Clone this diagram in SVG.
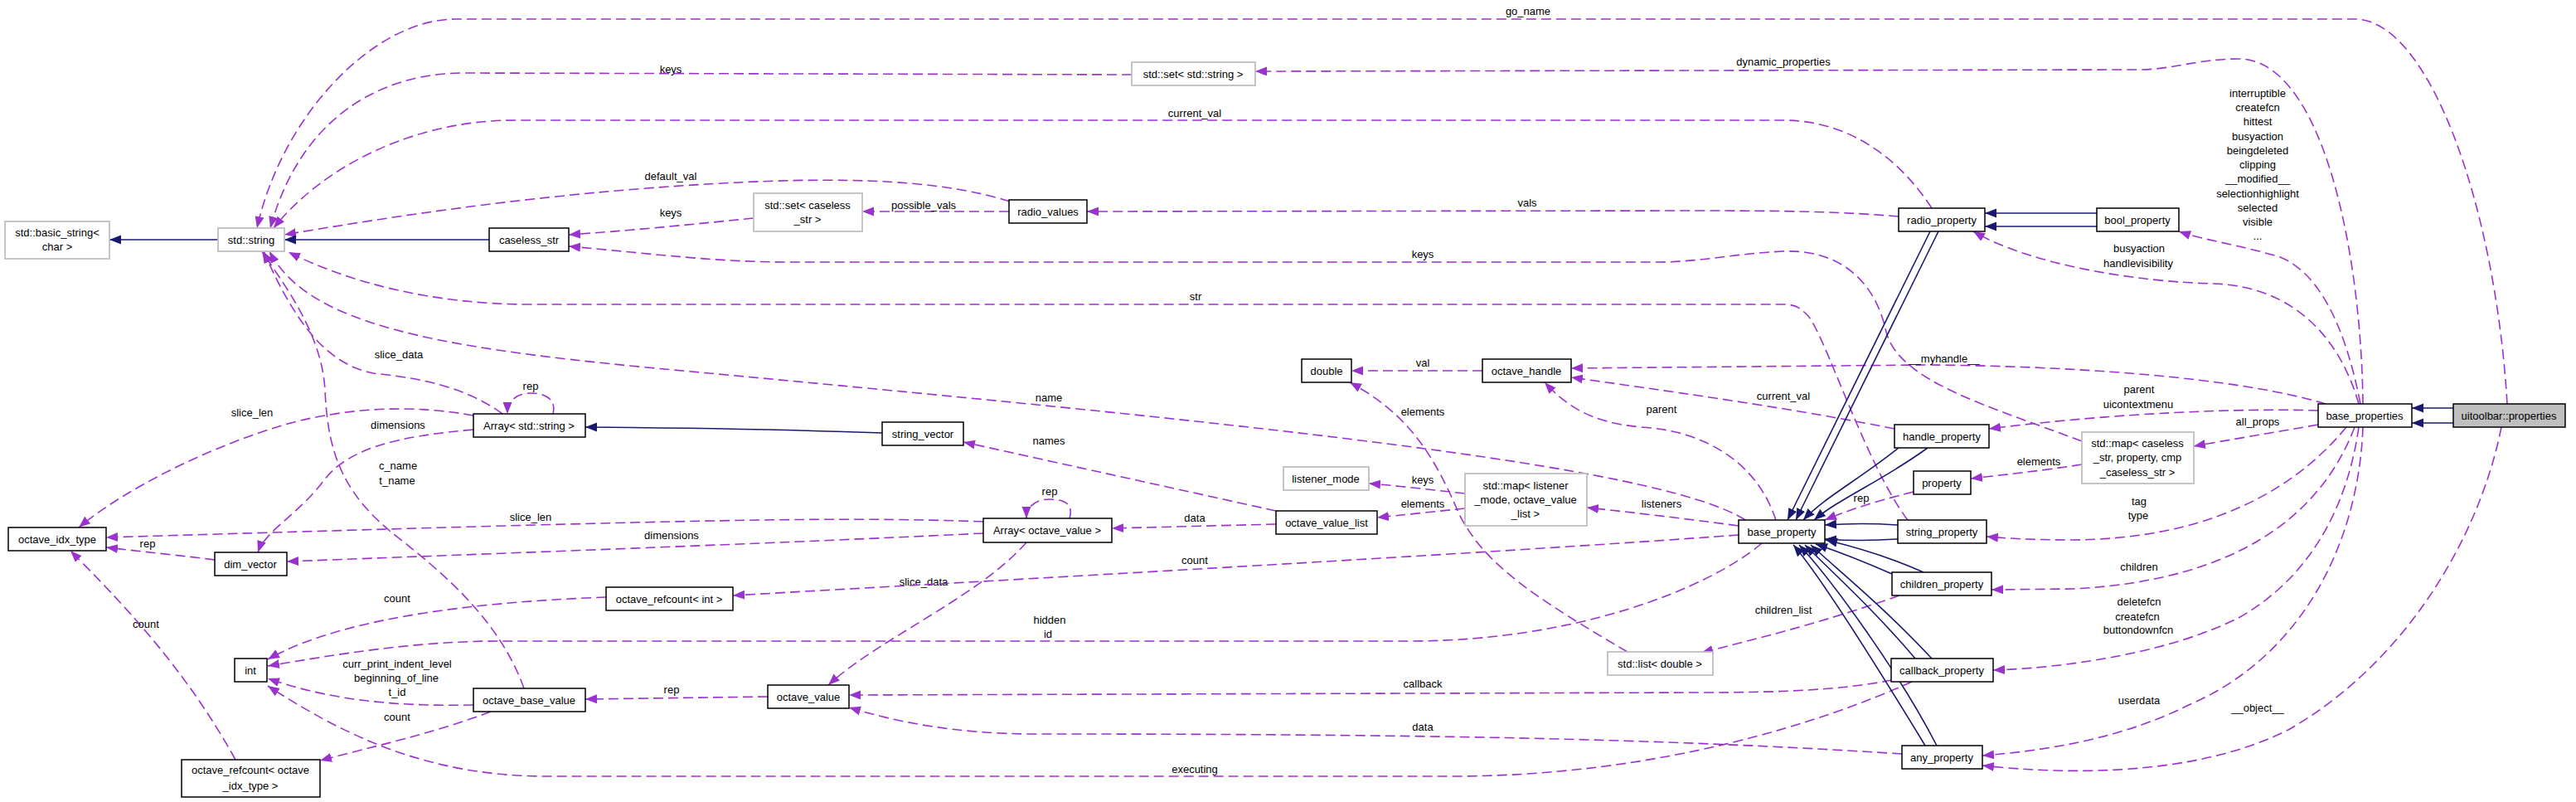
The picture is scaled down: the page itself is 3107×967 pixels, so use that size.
<svg xmlns="http://www.w3.org/2000/svg" width="3107" height="967" viewBox="0 0 3107 967">
<style>
.n rect{fill:#fff;stroke:#000;stroke-width:1.5}
.g rect{fill:#fff;stroke:#bfbfbf;stroke-width:1.8}
.s rect{fill:#bfbfbf;stroke:#000;stroke-width:1.5}
text{font-family:"Liberation Sans",Arial,Helvetica,sans-serif;font-size:13px;text-anchor:middle;fill:#000}
.d{fill:none;stroke:#9a32cd;stroke-width:1.6;stroke-dasharray:12,6;marker-end:url(#ap)}
.i{fill:none;stroke:#191970;stroke-width:1.6;marker-end:url(#an)}
</style>
<defs>
<marker id="ap" markerWidth="16" markerHeight="12" refX="14" refY="5.5" orient="auto" markerUnits="userSpaceOnUse"><path d="M0,0 L14,5.5 L0,11 z" fill="#9a32cd"/></marker>
<marker id="an" markerWidth="16" markerHeight="12" refX="14" refY="5.5" orient="auto" markerUnits="userSpaceOnUse"><path d="M0,0 L14,5.5 L0,11 z" fill="#191970"/></marker>
</defs>
<rect width="3107" height="967" fill="#fff"/>
<g id="edges">
<path class="d" d="M3024,487 C3010,250 2930,23 2840,23 L550,23 C450,23 340,140 310,275"/>
<text x="1843" y="18">go_name</text>
<path class="d" d="M2850,487 C2848,300 2800,71 2700,71 C2650,71 2620,84 2580,84 L1514,86"/>
<text x="2151" y="79">dynamic_properties</text>
<path class="d" d="M1365,90 L560,88 C450,88 360,150 326,275"/>
<text x="809" y="88">keys</text>
<path class="d" d="M2330,251 C2290,190 2230,145 2150,145 L620,145 C500,145 390,200 330,275"/>
<text x="1441" y="141">current_val</text>
<path class="d" d="M1218,243 C1130,215 1000,210 780,227 C600,241 450,265 343,283"/>
<text x="809" y="217">default_val</text>
<path class="d" d="M909,263 C820,272 760,278 686,283"/>
<text x="809" y="261">keys</text>
<path class="d" d="M1217,255 L1040,255"/>
<text x="1114" y="252">possible_vals</text>
<path class="d" d="M2290,261 C2220,255 2150,254 2050,254 L1311,255"/>
<text x="1842" y="249">vals</text>
<path class="d" d="M2511,532 C2400,490 2290,460 2275,400 C2262,340 2220,300 2150,303 C2090,306 2050,316 2000,316 L950,316 C860,316 780,305 686,297"/>
<text x="1716" y="311">keys</text>
<path class="d" d="M2301,627 C2250,560 2200,400 2180,380 C2170,370 2165,367 2150,367 L640,367 C520,367 420,340 348,304"/>
<text x="1442" y="362">str</text>
<path class="d" d="M2105,627 C2000,560 1500,510 780,443 C520,418 370,390 325,303"/>
<text x="1265" y="484">name</text>
<path class="d" d="M606,499 C560,465 500,455 450,450 C400,440 360,400 318,303"/>
<text x="481" y="432">slice_data</text>
<path class="d" d="M632,830 C600,740 520,680 470,640 C410,590 395,540 392,470 C388,400 340,340 316,303"/>
<text x="480" y="566">c_name</text>
<text x="479" y="584">t_name</text>
<path class="d" d="M667,499 C672,478 652,474 640,474 C625,474 612,482 612,499"/>
<text x="640" y="470">rep</text>
<path class="d" d="M571,501 C500,488 420,490 340,513 C250,540 150,590 95,636"/>
<text x="304" y="502">slice_len</text>
<path class="d" d="M571,518 C480,526 420,540 390,580 C360,620 320,640 311,666"/>
<text x="480" y="517">dimensions</text>
<path class="d" d="M1186,629 C1000,622 800,628 128,648"/>
<text x="640" y="628">slice_len</text>
<path class="d" d="M1186,643 C1000,652 800,660 346,677"/>
<text x="810" y="650">dimensions</text>
<path class="d" d="M259,675 C220,670 180,666 128,660"/>
<text x="178" y="660">rep</text>
<path class="d" d="M1290,625 C1296,605 1280,602 1265,602 C1250,602 1238,610 1238,625"/>
<text x="1266" y="597">rep</text>
<path class="d" d="M1539,632 L1341,637"/>
<text x="1441" y="629">data</text>
<path class="d" d="M1539,616 L1162,533"/>
<text x="1265" y="536">names</text>
<path class="d" d="M1238,654 C1180,720 1060,770 999,826"/>
<text x="1114" y="706">slice_data</text>
<path class="d" d="M731,720 C600,725 420,740 323,795"/>
<text x="479" y="726">count</text>
<path class="d" d="M2097,645 C1800,667 1200,700 884,718"/>
<text x="1441" y="680">count</text>
<path class="d" d="M2125,655 C2060,710 1900,773 1700,773 L600,773 C500,773 400,790 323,803"/>
<text x="1266" y="752">hidden</text>
<text x="1264" y="769">id</text>
<path class="d" d="M571,850 C480,852 400,845 323,818"/>
<text x="479" y="805">curr_print_indent_level</text>
<text x="478" y="822">beginning_of_line</text>
<text x="479" y="839">t_id</text>
<path class="d" d="M592,858 C520,885 450,900 386,917"/>
<text x="479" y="869">count</text>
<path class="d" d="M284,916 C220,800 140,720 85,664"/>
<text x="176" y="757">count</text>
<path class="d" d="M2306,822 C2200,870 2000,936 1750,936 L660,936 C520,936 420,890 323,827"/>
<text x="1441" y="932">executing</text>
<path class="d" d="M926,840 L706,843"/>
<text x="810" y="836">rep</text>
<path class="d" d="M2282,820 C2220,832 2150,835 2050,835 L1024,838"/>
<text x="1716" y="829">callback</text>
<path class="d" d="M2294,909 C2000,890 1700,885 1250,885 C1150,885 1080,870 1024,853"/>
<text x="1716" y="881">data</text>
<path class="d" d="M1963,786 C1850,720 1790,680 1760,620 C1730,550 1700,500 1628,461"/>
<text x="1716" y="501">elements</text>
<path class="d" d="M2291,718 C2200,750 2120,770 2052,787"/>
<text x="2151" y="740">children_list</text>
<path class="d" d="M1788,447 L1630,447"/>
<text x="1716" y="442">val</text>
<path class="d" d="M2142,627 C2120,560 2060,520 1980,515 C1920,510 1890,490 1863,461"/>
<text x="2004" y="498">parent</text>
<path class="d" d="M2285,517 C2150,490 2000,470 1895,455"/>
<text x="2151" y="482">current_val</text>
<path class="d" d="M2805,487 C2700,455 2500,441 2320,440 L1895,444"/>
<text x="2345" y="437">__myhandle__</text>
<path class="d" d="M2097,634 C2030,625 1970,618 1914,612"/>
<text x="2004" y="612">listeners</text>
<path class="d" d="M1767,595 C1720,590 1690,586 1651,583"/>
<text x="1716" y="583">keys</text>
<path class="d" d="M1767,613 C1720,618 1690,621 1661,624"/>
<text x="1716" y="612">elements</text>
<path class="d" d="M2308,593 C2260,605 2230,615 2201,627"/>
<text x="2245" y="605">rep</text>
<path class="d" d="M2511,560 C2460,568 2420,572 2377,577"/>
<text x="2459" y="561">elements</text>
<path class="d" d="M2796,512 C2740,522 2690,530 2646,538"/>
<text x="2723" y="513">all_props</text>
<path class="d" d="M2796,495 C2700,492 2550,498 2399,517"/>
<text x="2580" y="474">parent</text>
<text x="2579" y="492">uicontextmenu</text>
<path class="d" d="M2830,515 C2760,600 2650,650 2500,651 C2450,651 2420,649 2396,647"/>
<text x="2580" y="609">tag</text>
<text x="2579" y="626">type</text>
<path class="d" d="M2840,515 C2800,620 2700,700 2500,710 L2402,711"/>
<text x="2580" y="688">children</text>
<path class="d" d="M2845,515 C2830,620 2780,700 2700,745 C2620,785 2500,805 2404,808"/>
<text x="2580" y="730">deletefcn</text>
<text x="2578" y="748">createfcn</text>
<text x="2579" y="764">buttondownfcn</text>
<path class="d" d="M2850,515 C2845,650 2780,790 2640,850 C2560,890 2470,905 2391,911"/>
<text x="2580" y="849">userdata</text>
<path class="d" d="M3017,515 C2990,650 2900,800 2760,880 C2650,935 2500,935 2391,923"/>
<text x="2723" y="858">__object__</text>
<path class="d" d="M2847,487 C2830,400 2800,330 2750,310 C2700,295 2660,290 2628,279"/>
<text x="2723" y="117">interruptible</text>
<text x="2723" y="134">createfcn</text>
<text x="2723" y="151">hittest</text>
<text x="2723" y="169">busyaction</text>
<text x="2723" y="186">beingdeleted</text>
<text x="2723" y="203">clipping</text>
<text x="2723" y="220">__modified__</text>
<text x="2723" y="238">selectionhighlight</text>
<text x="2723" y="255">selected</text>
<text x="2723" y="272">visible</text>
<text x="2723" y="289">...</text>
<path class="d" d="M2845,487 C2820,400 2760,345 2670,342 C2580,340 2450,320 2380,279"/>
<text x="2580" y="304">busyaction</text>
<text x="2579" y="322">handlevisibility</text>
<path class="i" d="M263,289 L132,289"/>
<path class="i" d="M590,289 L343,289"/>
<path class="i" d="M1064,522 C950,518 850,516 706,515"/>
<path class="i" d="M2959,492 L2909,492"/>
<path class="i" d="M2959,510 L2909,510"/>
<path class="i" d="M2529,257 L2394,257"/>
<path class="i" d="M2529,273 L2394,273"/>
<path class="i" d="M2328,279 L2156,627"/>
<path class="i" d="M2338,279 L2166,627"/>
<path class="i" d="M2290,540 C2240,580 2200,600 2175,627"/>
<path class="i" d="M2325,540 C2270,580 2220,600 2188,627"/>
<path class="i" d="M2289,633 C2260,631 2230,631 2201,633"/>
<path class="i" d="M2289,650 C2260,652 2230,652 2201,650"/>
<path class="i" d="M2282,692 C2250,678 2220,666 2190,656"/>
<path class="i" d="M2320,690 C2280,672 2240,660 2202,651"/>
<path class="i" d="M2330,794 C2270,730 2220,690 2184,657"/>
<path class="i" d="M2310,794 C2260,735 2210,690 2177,657"/>
<path class="i" d="M2322,899 C2280,830 2200,700 2163,657"/>
<path class="i" d="M2336,899 C2290,810 2210,700 2170,657"/>
</g>
<g id="node-basic_string" class="g"><rect x="6" y="267" width="126" height="45"/><text x="69" y="285">std::basic_string&lt;</text><text x="69" y="302">char &gt;</text></g>
<g id="node-std_string" class="g"><rect x="263" y="275" width="80" height="28"/><text x="303" y="294">std::string</text></g>
<g id="node-caseless_str" class="n"><rect x="590" y="275" width="96" height="28"/><text x="638" y="294">caseless_str</text></g>
<g id="node-set_string" class="g"><rect x="1365" y="75" width="149" height="28"/><text x="1439" y="94">std::set&lt; std::string &gt;</text></g>
<g id="node-set_caseless" class="g"><rect x="909" y="233" width="131" height="46"/><text x="974" y="252">std::set&lt; caseless</text><text x="974" y="269">_str &gt;</text></g>
<g id="node-radio_values" class="n"><rect x="1217" y="241" width="94" height="28"/><text x="1264" y="260">radio_values</text></g>
<g id="node-radio_property" class="n"><rect x="2290" y="251" width="104" height="28"/><text x="2342" y="270">radio_property</text></g>
<g id="node-bool_property" class="n"><rect x="2529" y="251" width="99" height="28"/><text x="2578" y="270">bool_property</text></g>
<g id="node-array_string" class="n"><rect x="571" y="499" width="135" height="28"/><text x="638" y="518">Array&lt; std::string &gt;</text></g>
<g id="node-string_vector" class="n"><rect x="1064" y="509" width="98" height="28"/><text x="1113" y="528">string_vector</text></g>
<g id="node-octave_idx_type" class="n"><rect x="10" y="636" width="118" height="28"/><text x="69" y="655">octave_idx_type</text></g>
<g id="node-dim_vector" class="n"><rect x="259" y="666" width="87" height="28"/><text x="302" y="685">dim_vector</text></g>
<g id="node-array_octave_value" class="n"><rect x="1186" y="625" width="155" height="29"/><text x="1263" y="644">Array&lt; octave_value &gt;</text></g>
<g id="node-octave_value_list" class="n"><rect x="1539" y="616" width="122" height="28"/><text x="1600" y="635">octave_value_list</text></g>
<g id="node-double" class="n"><rect x="1570" y="433" width="60" height="28"/><text x="1600" y="452">double</text></g>
<g id="node-octave_handle" class="n"><rect x="1788" y="433" width="107" height="28"/><text x="1841" y="452">octave_handle</text></g>
<g id="node-listener_mode" class="g"><rect x="1548" y="563" width="103" height="28"/><text x="1599" y="582">listener_mode</text></g>
<g id="node-map_listener" class="g"><rect x="1767" y="571" width="147" height="63"/><text x="1840" y="590">std::map&lt; listener</text><text x="1840" y="607">_mode, octave_value</text><text x="1840" y="624">_list &gt;</text></g>
<g id="node-base_property" class="n"><rect x="2097" y="627" width="104" height="28"/><text x="2149" y="646">base_property</text></g>
<g id="node-handle_property" class="n"><rect x="2285" y="512" width="114" height="28"/><text x="2342" y="531">handle_property</text></g>
<g id="node-property" class="n"><rect x="2308" y="568" width="69" height="28"/><text x="2342" y="587">property</text></g>
<g id="node-string_property" class="n"><rect x="2289" y="627" width="107" height="28"/><text x="2342" y="646">string_property</text></g>
<g id="node-base_properties" class="n"><rect x="2796" y="487" width="113" height="28"/><text x="2852" y="506">base_properties</text></g>
<g id="node-uitoolbar_properties" class="s"><rect x="2959" y="487" width="135" height="28"/><text x="3026" y="506">uitoolbar::properties</text></g>
<g id="node-map_caseless" class="g"><rect x="2511" y="521" width="135" height="62"/><text x="2578" y="539">std::map&lt; caseless</text><text x="2578" y="556">_str, property, cmp</text><text x="2578" y="574">_caseless_str &gt;</text></g>
<g id="node-int" class="n"><rect x="283" y="794" width="39" height="28"/><text x="302" y="813">int</text></g>
<g id="node-octave_base_value" class="n"><rect x="571" y="830" width="135" height="28"/><text x="638" y="849">octave_base_value</text></g>
<g id="node-refcount_idx" class="n"><rect x="219" y="916" width="167" height="45"/><text x="302" y="933">octave_refcount&lt; octave</text><text x="302" y="952">_idx_type &gt;</text></g>
<g id="node-refcount_int" class="n"><rect x="731" y="708" width="153" height="28"/><text x="807" y="727">octave_refcount&lt; int &gt;</text></g>
<g id="node-octave_value" class="n"><rect x="926" y="826" width="98" height="28"/><text x="975" y="845">octave_value</text></g>
<g id="node-list_double" class="g"><rect x="1939" y="786" width="127" height="28"/><text x="2002" y="805">std::list&lt; double &gt;</text></g>
<g id="node-children_property" class="n"><rect x="2282" y="690" width="120" height="28"/><text x="2342" y="709">children_property</text></g>
<g id="node-callback_property" class="n"><rect x="2281" y="794" width="123" height="28"/><text x="2342" y="813">callback_property</text></g>
<g id="node-any_property" class="n"><rect x="2294" y="899" width="97" height="28"/><text x="2342" y="918">any_property</text></g>
</svg>
